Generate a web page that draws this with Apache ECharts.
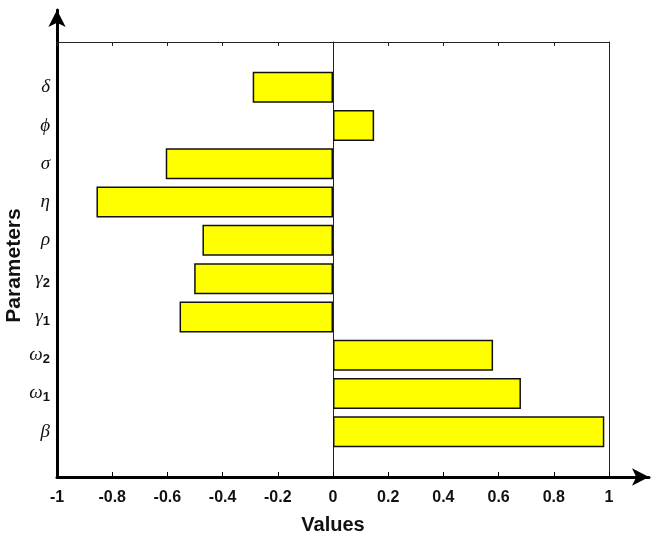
<!DOCTYPE html>
<html>
<head>
<meta charset="utf-8">
<script src="https://cdn.jsdelivr.net/npm/echarts@6/dist/echarts.min.js"></script>
<style>
  html, body { margin: 0; padding: 0; background: #fff; }
  #chart { width: 662px; height: 540px; }
</style>
</head>
<body>
<div id="chart"></div>
<script>
  // parameters from bottom to top
  var symbols = ['β', 'ω', 'ω', 'γ', 'γ', 'ρ', 'η', 'σ', 'ϕ', 'δ'];
  var subscripts = ['', '1', '2', '1', '2', '', '', '', '', ''];
  var values = [0.983, 0.681, 0.58, -0.556, -0.503, -0.473, -0.857, -0.606, 0.149, -0.291];
  var xTicks = [-1, -0.8, -0.6, -0.4, -0.2, 0, 0.2, 0.4, 0.6, 0.8, 1];

  var categories = symbols.map(function (s, i) { return s + subscripts[i]; });

  var chart = echarts.init(document.getElementById('chart'));

  var noTick = { show: false };
  var noLabel = { show: false };
  var noSplit = { show: false };

  chart.setOption({
    animation: false,
    backgroundColor: '#fff',
    grid: [
      // arrows
      { left: 57, right: 13, top: 10, bottom: 63, outerBoundsMode: 'none', containLabel: false },
      // frame
      { left: 57, right: 53, top: 42, bottom: 63, outerBoundsMode: 'none', containLabel: false },
      // bars
      { left: 57, right: 53, top: 68.2, bottom: 89.2, outerBoundsMode: 'none', containLabel: false }
    ],
    xAxis: [
      {
        gridIndex: 0, type: 'value', min: 0, max: 1, position: 'bottom',
        axisLine: { onZero: false, symbol: ['none', 'arrow'], symbolSize: [13, 17],
          lineStyle: { color: '#000', width: 3 } },
        axisTick: noTick, axisLabel: noLabel, splitLine: noSplit
      },
      {
        gridIndex: 1, type: 'value', min: -1, max: 1, interval: 0.2, position: 'bottom',
        axisLine: { show: false, onZero: false },
        axisTick: { inside: true, length: 5, lineStyle: { color: '#000', width: 1 } },
        axisLabel: {
          margin: 13, color: '#111', fontSize: 16, fontWeight: 'bold',
          fontFamily: 'Liberation Sans, Arial, sans-serif',
          formatter: function (v) { return String(Math.round(v * 10) / 10); }
        },
        splitLine: noSplit,
        name: 'Values', nameLocation: 'middle', nameGap: 38,
        nameTextStyle: { color: '#111', fontSize: 20, fontWeight: 'bold',
          fontFamily: 'Liberation Sans, Arial, sans-serif' }
      },
      {
        gridIndex: 1, type: 'value', min: -1, max: 1, interval: 0.2, position: 'top',
        axisLine: { onZero: false, lineStyle: { color: '#222', width: 1 } },
        axisTick: { inside: true, length: 4, lineStyle: { color: '#222', width: 1 } },
        axisLabel: noLabel, splitLine: noSplit
      },
      {
        gridIndex: 2, type: 'value', min: -1, max: 1, show: false
      }
    ],
    yAxis: [
      {
        gridIndex: 0, type: 'value', min: 0, max: 1, position: 'left',
        axisLine: { onZero: false, symbol: ['none', 'arrow'], symbolSize: [13, 17],
          lineStyle: { color: '#000', width: 3 } },
        axisTick: noTick, axisLabel: noLabel, splitLine: noSplit
      },
      {
        // zero line
        gridIndex: 1, type: 'value', min: 0, max: 1, position: 'left',
        axisLine: { onZero: true, lineStyle: { color: '#222', width: 1 } },
        axisTick: noTick, axisLabel: noLabel, splitLine: noSplit
      },
      {
        // right border
        gridIndex: 1, type: 'value', min: 0, max: 1, position: 'right',
        axisLine: { onZero: false, lineStyle: { color: '#222', width: 1 } },
        axisTick: noTick, axisLabel: noLabel, splitLine: noSplit
      },
      {
        gridIndex: 2, type: 'category', data: categories, position: 'left',
        axisLine: { show: false, onZero: false },
        axisTick: { inside: true, alignWithLabel: true, length: 5,
          lineStyle: { color: '#222', width: 1 } },
        axisLabel: {
          margin: 7,
          formatter: function (v, i) {
            var sub = subscripts[i];
            return '{g|' + symbols[i] + '}' + (sub ? '{s|' + sub + '}' : '');
          },
          rich: {
            g: { fontFamily: 'Liberation Serif, DejaVu Serif, serif', fontStyle: 'italic',
              fontSize: 19, color: '#111', lineHeight: 22 },
            s: { fontFamily: 'Liberation Sans, Arial, sans-serif', fontWeight: 'bold',
              fontSize: 13, color: '#111', verticalAlign: 'bottom', lineHeight: 22, padding: [10, 0, 0, 0] }
          }
        },
        splitLine: noSplit,
        name: 'Parameters', nameLocation: 'middle', nameGap: 32, nameMoveOverlap: false,
        nameTextStyle: { color: '#111', fontSize: 21, fontWeight: 'bold',
          fontFamily: 'Liberation Sans, Arial, sans-serif', padding: [0, 12, 0, 0] }
      },
      {
        gridIndex: 2, type: 'category', data: categories, position: 'right',
        axisLine: { show: false, onZero: false },
        axisTick: { inside: true, alignWithLabel: true, length: 5,
          lineStyle: { color: '#222', width: 1 } },
        axisLabel: noLabel, splitLine: noSplit
      }
    ],
    series: [
      {
        type: 'bar',
        xAxisIndex: 3,
        yAxisIndex: 3,
        data: values,
        barWidth: '81%',
        itemStyle: { color: '#ffff00', borderColor: '#111', borderWidth: 1.5 }
      }
    ]
  });
</script>
</body>
</html>
